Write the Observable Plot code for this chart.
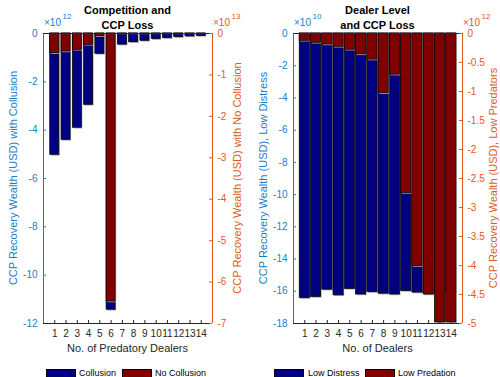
<!DOCTYPE html>
<html><head><meta charset="utf-8">
<script src="https://cdn.jsdelivr.net/npm/d3@7"></script>
<script src="https://cdn.jsdelivr.net/npm/@observablehq/plot@0.6"></script>
<style>
body{margin:0;background:#fff;}
#root{position:relative;width:500px;height:377px;overflow:hidden;font-family:"Liberation Sans",Arial,Helvetica,sans-serif;}
.layer{position:absolute;top:0;}
.t{position:absolute;white-space:nowrap;line-height:1;}
.title{font-weight:bold;font-size:11px;color:#000;text-align:center;width:200px;line-height:15px;}
.xl{font-size:11px;color:#262626;transform:translate(-50%,-50%);}
.yl{font-size:11px;transform:translate(-50%,-50%) rotate(-90deg);}
.ex{font-size:10px;}
.exs{font-size:8px;}
.sw{position:absolute;width:30px;height:9px;border:1px solid #000;box-sizing:border-box;}
.lg{font-size:9px;color:#000;}
</style></head><body><div id="root"></div>
<script>
// ---- data ----
const dealers = [1,2,3,4,5,6,7,8,9,10,11,12,13,14];
// Left panel: Competition and CCP Loss
const collusion = [-5.02e12,-4.40e12,-3.90e12,-2.95e12,-0.84e12,-11.43e12,-0.46e12,-0.36e12,-0.30e12,-0.23e12,-0.19e12,-0.15e12,-0.12e12,-0.10e12];
const noCollusion = [-0.475e13,-0.435e13,-0.394e13,-0.274e13,-0.065e13,-6.47e13,-0.004e13,-0.003e13,-0.003e13,-0.002e13,-0.002e13,-0.002e13,-0.001e13,-0.001e13];
// Right panel: Dealer Level and CCP Loss
const lowDistress = [-16.42e10,-16.35e10,-15.9e10,-16.25e10,-15.85e10,-16.2e10,-16.05e10,-16.15e10,-16.2e10,-15.98e10,-16.08e10,-16.1e10,-16.1e10,-16.1e10];
const lowPredation = [-0.126e12,-0.16e12,-0.19e12,-0.23e12,-0.28e12,-0.36e12,-0.45e12,-1.03e12,-0.71e12,-2.75e12,-4.01e12,-4.5e12,-4.98e12,-4.98e12];
// tick values
const leftTicksA = [0,-2e12,-4e12,-6e12,-8e12,-10e12,-12e12];
const rightTicksA = [0,-1e13,-2e13,-3e13,-4e13,-5e13,-6e13,-7e13];
const leftTicksB = [0,-2e10,-4e10,-6e10,-8e10,-10e10,-12e10,-14e10,-16e10,-18e10];
const rightTicksB = [0,-0.5e12,-1e12,-1.5e12,-2e12,-2.5e12,-3e12,-3.5e12,-4e12,-4.5e12,-5e12];

// ---- styling ----
const BLUE = "#1580CC", ORANGE = "#DF5A22", NAVY = "#000080", MAROON = "#800000", AX = "#262626";
const FONT = "'Liberation Sans', Arial, Helvetica, sans-serif";
const W = 250, H = 377, MT = 33, MB = 54, ML = 43, MR = 38;
const FW = W - ML - MR, FH = H - MT - MB;
const root = document.getElementById("root");

function fmt(scale){ return d => String(Math.round(d / scale * 10) / 10); }

function panel(offset, blueVals, redVals, barW, lTicks, lScale, lMin, rTicks, rScale, rMin) {
  const blueRows = dealers.map((k,i) => ({k, v: blueVals[i]}));
  const redRows = dealers.map((k,i) => ({k, v: redVals[i]}));
  const x1 = d => d.k - barW/2, x2 = d => d.k + barW/2;
  const common = {
    width: W, height: H, marginTop: MT, marginBottom: MB, marginLeft: ML, marginRight: MR,
    style: {background: "transparent", fontFamily: FONT, fontSize: "10px", overflow: "visible"},
    x: {type: "linear", domain: [0, 15], axis: null}
  };
  const a = Plot.plot({
    ...common,
    y: {domain: [lMin, 0], axis: null},
    marks: [
      Plot.rect(blueRows, {x1, x2, y1: 0, y2: "v", fill: "#a0a0a0", dx: 1, dy: 1.2}),
      Plot.rect(blueRows, {x1, x2, y1: 0, y2: "v", fill: NAVY, stroke: "#000", strokeWidth: 0.7}),
      Plot.ruleX([0], {stroke: BLUE, strokeWidth: 1}),
      Plot.ruleY(lTicks, {stroke: BLUE, insetRight: FW - 3}),
      Plot.axisY({anchor: "left", ticks: lTicks, tickSize: 0, tickPadding: 6, tickFormat: fmt(lScale), color: BLUE, label: null, fontSize: 10}),
      Plot.axisX({anchor: "bottom", ticks: dealers, tickSize: 0, tickPadding: 6, tickFormat: d => String(d), color: AX, label: null, fontSize: 10})
    ]
  });
  const b = Plot.plot({
    ...common,
    y: {domain: [rMin, 0], axis: null},
    marks: [
      Plot.rect(redRows, {x1, x2, y1: 0, y2: "v", fill: "#a0a0a0", dx: 1, dy: 1.2}),
      Plot.rect(redRows, {x1, x2, y1: 0, y2: "v", fill: MAROON, stroke: "#000", strokeWidth: 0.7}),
      Plot.ruleY([0, rMin], {stroke: AX, strokeWidth: 1}),
      Plot.ruleX(dealers, {stroke: AX, insetTop: FH - 3}),
      Plot.ruleX(dealers, {stroke: AX, insetBottom: FH - 3}),
      Plot.ruleX([15], {stroke: ORANGE, strokeWidth: 1}),
      Plot.ruleY(rTicks, {stroke: ORANGE, insetLeft: FW - 3}),
      Plot.axisY({anchor: "right", ticks: rTicks, tickSize: 0, tickPadding: 5, tickFormat: fmt(rScale), color: ORANGE, label: null, fontSize: 10})
    ]
  });
  for (const svg of [a, b]) {
    const d = document.createElement("div");
    d.className = "layer";
    d.style.left = offset + "px";
    d.appendChild(svg);
    root.appendChild(d);
  }
}

panel(0, collusion, noCollusion, 0.8, leftTicksA, 1e12, -12e12, rightTicksA, 1e13, -7e13);
panel(250, lowDistress, lowPredation, 0.9, leftTicksB, 1e10, -18e10, rightTicksB, 1e12, -5e12);

function txt(html, cls, left, top, color) {
  const d = document.createElement("div");
  d.className = "t " + cls;
  d.style.left = left + "px"; d.style.top = top + "px";
  if (color) d.style.color = color;
  d.innerHTML = html;
  root.appendChild(d);
  return d;
}
// titles
txt("Competition and<br>CCP Loss", "title", 127.5 - 100, 3);
txt("Dealer Level<br>and CCP Loss", "title", 377.5 - 100, 3);
// x labels
txt("No. of Predatory Dealers", "xl", 127.5, 348);
txt("No. of Dealers", "xl", 377.5, 348);
// y labels
txt("CCP Recovery Wealth (USD) with Collusion", "yl", 13, 178, BLUE);
txt("CCP Recovery Wealth (USD) with No Collusion", "yl", 237, 178, ORANGE);
txt("CCP Recovery Wealth (USD), Low Distress", "yl", 263, 178, BLUE);
txt("CCP Recovery Wealth (USD), Low Predators", "yl", 493, 178, ORANGE);
// exponents
txt("×10", "ex", 44, 18, BLUE); txt("12", "exs", 62.5, 13, BLUE);
txt("×10", "ex", 213, 18, ORANGE); txt("13", "exs", 231.5, 13, ORANGE);
txt("×10", "ex", 294, 18, BLUE); txt("10", "exs", 312.5, 13, BLUE);
txt("×10", "ex", 463, 18, ORANGE); txt("12", "exs", 481.5, 13, ORANGE);
// legends
function sw(left, color) {
  const d = document.createElement("div");
  d.className = "sw"; d.style.left = left + "px"; d.style.top = "369px"; d.style.background = color;
  root.appendChild(d);
}
sw(46, NAVY); txt("Collusion", "lg", 79, 369);
sw(122, MAROON); txt("No Collusion", "lg", 155, 369);
sw(274, NAVY); txt("Low Distress", "lg", 308, 369);
sw(365, MAROON); txt("Low Predation", "lg", 398, 369);
</script></body></html>
